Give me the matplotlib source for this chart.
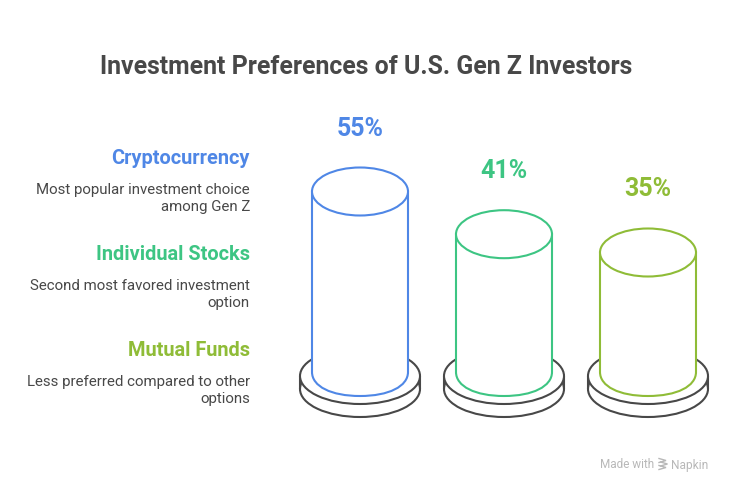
import numpy as np
import matplotlib
matplotlib.use('Agg')
import matplotlib.pyplot as plt
from matplotlib.patches import Ellipse, PathPatch
from matplotlib.path import Path

#######################################
# DATA
#######################################
categories = ["Cryptocurrency", "Individual Stocks", "Mutual Funds"]
descriptions = ["Most popular investment choice\namong Gen Z",
                "Second most favored investment\noption",
                "Less preferred compared to other\noptions"]
values = [55, 41, 35]
labels = ["55%", "41%", "35%"]
colors = ["#4f87e6", "#3dc583", "#8fbc37"]

title = "Investment Preferences of U.S. Gen Z Investors"

#######################################
# LAYOUT (pixels)
#######################################
W, H = 732, 493
DARK = "#484848"
px_per_unit = 3.05
y55 = 191.5                     # pixel row of a 55 value
base_value = 55 - (372 - y55) / px_per_unit
x_centers = [360, 504, 648]
half_w = 48
ry = 24

plt.rcParams['font.family'] = ['Roboto', 'DejaVu Sans']

fig = plt.figure(figsize=(W / 100, H / 100), dpi=100, facecolor='white')

# pixel axes for text and plinths
ax = fig.add_axes([0, 0, 1, 1])
ax.set_xlim(0, W)
ax.set_ylim(H, 0)
ax.axis('off')

# value axes for the cylinders
ax_v = fig.add_axes([0, 0, 1, 1], sharex=ax)
ax_v.set_ylim(55 - (H - y55) / px_per_unit, 55 + y55 / px_per_unit)
ax_v.axis('off')
ax_v.patch.set_alpha(0)

ax.text(366, 67, title, ha='center', va='center', fontsize=17.9,
        fontweight='bold', color=DARK)

#######################################
# LEFT TEXT
#######################################
head_y = [158, 254, 350]
for cat, desc, col, y in zip(categories, descriptions, colors, head_y):
    ax.text(250, y, cat, ha='right', va='center', fontsize=14.4,
            fontweight='bold', color=col)
    l1, l2 = desc.split("\n")
    ax.text(250, y + 32, l1, ha='right', va='center', fontsize=10.8, color=DARK)
    ax.text(250, y + 49, l2, ha='right', va='center', fontsize=10.8, color=DARK)

#######################################
# PLINTHS AND CYLINDERS
#######################################
for xc, val, lab, col in zip(x_centers, values, labels, colors):
    # plinth, two stacked discs
    ax.add_patch(Ellipse((xc, 389), 120, 56, fc='white', ec=DARK, lw=1.5, zorder=1))
    ax.add_patch(PathPatch(Path([(xc - 60, 376), (xc - 60, 389), (xc + 60, 389), (xc + 60, 376)],
                                [Path.MOVETO, Path.LINETO, Path.MOVETO, Path.LINETO]),
                           fc='none', ec=DARK, lw=1.5, zorder=2))
    ax.add_patch(Ellipse((xc, 376), 120, 56, fc='white', ec=DARK, lw=1.5, zorder=3))

    # cylinder body in value units
    ry_v = ry / px_per_unit
    k = 0.6
    verts = [(xc - half_w, val), (xc - half_w, base_value),
             (xc - half_w, base_value - ry_v * k), (xc - half_w * k, base_value - ry_v), (xc, base_value - ry_v),
             (xc + half_w * k, base_value - ry_v), (xc + half_w, base_value - ry_v * k), (xc + half_w, base_value),
             (xc + half_w, val), (xc - half_w, val)]
    codes = [Path.MOVETO, Path.LINETO, Path.CURVE4, Path.CURVE4, Path.CURVE4,
             Path.CURVE4, Path.CURVE4, Path.CURVE4, Path.LINETO, Path.CLOSEPOLY]
    ax_v.add_patch(PathPatch(Path(verts, codes), fc='white', ec=col, lw=1.5, zorder=4))
    ax_v.add_patch(Ellipse((xc, val), half_w * 2, ry_v * 2, fc='white', ec=col, lw=1.5, zorder=5))

    ax_v.annotate(lab, (xc, val), xytext=(0, 63 * 0.72), textcoords='offset points',
                  ha='center', va='center', fontsize=18, fontweight='bold', color=col)

#######################################
# WATERMARK
#######################################
GREY = "#b8b8b8"
ax.text(654, 465, "Made with", ha='right', va='center', fontsize=8.5, color=GREY)
ax.text(708, 465, "Napkin", ha='right', va='center', fontsize=8.6, color=GREY)
for y0, dx in zip([458.5, 462, 465.5], [0, 1.5, 0]):
    ax.plot([659 + dx, 666 + dx, 659 + dx], [y0, y0 + 2, y0 + 4],
            color=GREY, lw=1.0, solid_joinstyle='miter')

plt.savefig('out.png', dpi=100)
